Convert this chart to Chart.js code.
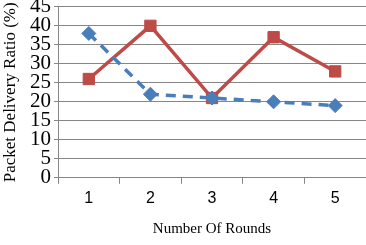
<!DOCTYPE html>
<html>
<head>
<meta charset="utf-8">
<script src="https://cdn.jsdelivr.net/npm/chart.js@4/dist/chart.umd.min.js"></script>
<style>
  html, body { margin: 0; padding: 0; background: #fff; overflow: hidden; }
  #wrap { width: 366px; height: 245px; overflow: hidden; position: relative; }
  #myChart { position: absolute; left: 0; top: -3px; }
</style>
</head>
<body>
<div id="wrap"><canvas id="myChart" width="375" height="248"></canvas></div>
<script>
const rounds = ['1', '2', '3', '4', '5'];
const seriesBlue = [38, 22, 21, 20, 19];
const seriesRed = [26, 40, 21, 37, 28];
const yTicks = [0, 5, 10, 15, 20, 25, 30, 35, 40, 45];

const ctx = document.getElementById('myChart').getContext('2d');
new Chart(ctx, {
    type: 'line',
    data: {
        labels: rounds,
        datasets: [{
            label: 'Series 1',
            data: seriesBlue,
            borderColor: '#4A7EBB',
            backgroundColor: '#4A7EBB',
            borderWidth: 3.5,
            borderDash: [10, 7],
            pointStyle: 'rectRot',
            pointRadius: 7,
            pointBorderWidth: 1,
            tension: 0
        }, {
            label: 'Series 2',
            data: seriesRed,
            borderColor: '#BE4B48',
            backgroundColor: '#BE4B48',
            borderWidth: 3.5,
            pointStyle: 'rect',
            pointRadius: 8,
            pointBorderWidth: 1,
            tension: 0
        }]
    },
    options: {
        responsive: false,
        animation: false,
        layout: { padding: { top: 0, right: 1, left: 0, bottom: 7 } },
        plugins: {
            legend: { display: false },
            tooltip: { enabled: false }
        },
        scales: {
            x: {
                offset: true,
                afterFit: axis => { axis.paddingRight = 0; axis.paddingLeft = 0; },
                grid: {
                    offset: true,
                    drawOnChartArea: false,
                    drawTicks: true,
                    tickLength: 6,
                    color: '#868686'
                },
                border: { color: '#868686' },
                ticks: {
                    color: '#000',
                    font: { family: 'Liberation Sans', size: 16 },
                    padding: 5
                },
                title: {
                    display: true,
                    text: 'Number Of Rounds',
                    color: '#000',
                    font: { family: 'Liberation Serif', size: 15 },
                    padding: { top: 7, bottom: 0 }
                }
            },
            y: {
                min: 0,
                max: 45,
                afterBuildTicks: axis => { axis.ticks = yTicks.map(v => ({ value: v })); },
                afterFit: axis => { axis.width = 58; },
                grid: {
                    color: '#868686',
                    tickLength: 4
                },
                border: { color: '#868686' },
                ticks: {
                    autoSkip: false,
                    color: '#000',
                    font: { family: 'Liberation Serif', size: 21, lineHeight: 0.65 },
                    padding: 3
                },
                title: {
                    display: true,
                    text: 'Packet Delivery Ratio (%)',
                    color: '#000',
                    font: { family: 'Liberation Serif', size: 17 },
                    padding: { top: 0, bottom: 1 }
                }
            }
        }
    }
});
</script>
</body>
</html>
